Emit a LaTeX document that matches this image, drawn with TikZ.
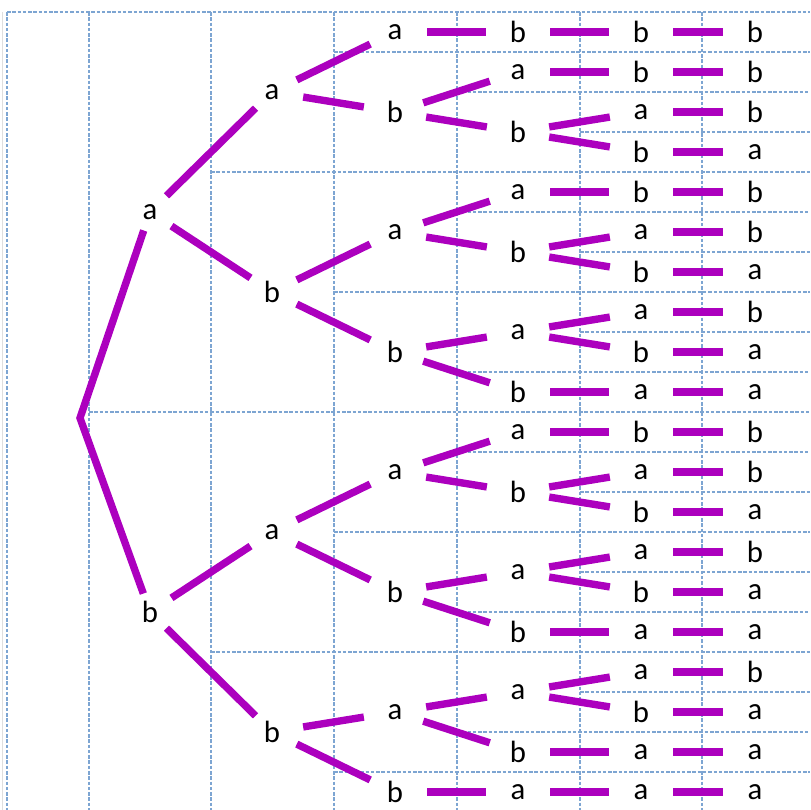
\documentclass[tikz,border=0pt]{standalone}
\usepackage{fontspec}
\setmainfont{Carlito}
\usetikzlibrary{shapes.geometric}
\definecolor{treeline}{RGB}{172,0,190}
\definecolor{gridline}{RGB}{125,165,210}
\tikzset{
  lbl/.style={shape=ellipse, inner sep=0pt, minimum width=1.28cm, minimum height=0.74cm,
    font=\fontsize{17.5}{20}\selectfont},
  edge/.style={draw=treeline, line width=4.2pt},
  cell/.style={draw=gridline, line width=0.6pt, dash pattern=on 2pt off 1pt}
}
\begin{document}
\begin{tikzpicture}[x=0.02cm, y=-0.02cm]
  \useasboundingbox (0,0) rectangle (810,810);
  % sheet edge and cell borders
  \draw[gray!25, line width=0.6pt] (2.5,12) -- (2.5,810);
  \foreach \x in {7, 89, 211, 334, 457, 580, 702}{
    \draw[cell] (\x,12) -- (\x,810);
  }
  \draw[cell] (7,12) -- (810,12);
  \foreach \k/\x in {10/89, 4/211, 16/211, 1/334, 7/334, 13/334, 19/334,
      2/457, 5/457, 9/457, 11/457, 15/457, 18/457,
      3/580, 6/580, 8/580, 12/580, 14/580, 17/580}{
    \draw[cell] (\x,12+40*\k) -- (810,12+40*\k);
  }

  % first letter
  \coordinate (root) at (80,418);
  \node[lbl] (na) at (150,212) {a};
  \node[lbl] (nb) at (150,612) {b};
  \draw[edge] (na) -- (root) -- (nb);

  % second letter
  \foreach \n/\p/\y/\l in {naa/na/92/a, nab/na/292/b, nba/nb/532/a, nbb/nb/732/b}{
    \node[lbl] (\n) at (272,\y) {\l};
    \draw[edge] (\p) -- (\n);
  }

  % third letter
  \foreach \n/\p/\y/\l in {naaa/naa/32/a, naab/naa/112/b, naba/nab/232/a, nabb/nab/352/b,
      nbaa/nba/472/a, nbab/nba/592/b, nbba/nbb/712/a, nbbb/nbb/792/b}{
    \node[lbl] (\n) at (395,\y) {\l};
    \draw[edge] (\p) -- (\n);
  }

  % fourth letter
  \foreach \n/\p/\y/\l in {naaab/naaa/32/b, naaba/naab/72/a, naabb/naab/132/b,
      nabaa/naba/192/a, nabab/naba/252/b, nabba/nabb/332/a, nabbb/nabb/392/b,
      nbaaa/nbaa/432/a, nbaab/nbaa/492/b, nbaba/nbab/572/a, nbabb/nbab/632/b,
      nbbaa/nbba/692/a, nbbab/nbba/752/b, nbbba/nbbb/792/a}{
    \node[lbl] (\n) at (518,\y) {\l};
    \draw[edge] (\p) -- (\n);
  }

  % fifth letter
  \foreach \n/\p/\y/\l in {naaabb/naaab/32/b, naabab/naaba/72/b, naabba/naabb/112/a,
      naabbb/naabb/152/b, nabaab/nabaa/192/b, nababa/nabab/232/a, nababb/nabab/272/b,
      nabbaa/nabba/312/a, nabbab/nabba/352/b, nabbba/nabbb/392/a, nbaaab/nbaaa/432/b,
      nbaaba/nbaab/472/a, nbaabb/nbaab/512/b, nbabaa/nbaba/552/a, nbabab/nbaba/592/b,
      nbabba/nbabb/632/a, nbbaaa/nbbaa/672/a, nbbaab/nbbaa/712/b, nbbaba/nbbab/752/a,
      nbbbaa/nbbba/792/a}{
    \node[lbl] (\n) at (641,\y) {\l};
    \draw[edge] (\p) -- (\n);
  }

  % sixth letter
  \foreach \n/\p/\y/\l in {naaabbb/naaabb/32/b, naababb/naabab/72/b, naabbab/naabba/112/b,
      naabbba/naabbb/152/a, nabaabb/nabaab/192/b, nababab/nababa/232/b, nababba/nababb/272/a,
      nabbaab/nabbaa/312/b, nabbaba/nabbab/352/a, nabbbaa/nabbba/392/a, nbaaabb/nbaaab/432/b,
      nbaabab/nbaaba/472/b, nbaabba/nbaabb/512/a, nbabaab/nbabaa/552/b, nbababa/nbabab/592/a,
      nbabbaa/nbabba/632/a, nbbaaab/nbbaaa/672/b, nbbaaba/nbbaab/712/a, nbbabaa/nbbaba/752/a,
      nbbbaaa/nbbbaa/792/a}{
    \node[lbl] (\n) at (755,\y) {\l};
    \draw[edge] (\p) -- (\n);
  }
\end{tikzpicture}
\end{document}
